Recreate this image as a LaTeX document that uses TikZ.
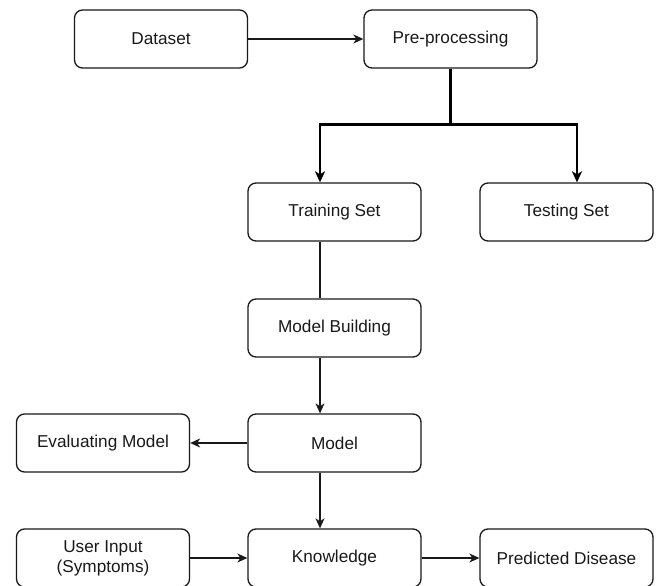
\documentclass[tikz,border=0pt]{standalone}
\usepackage{fontspec}
\setmainfont{Liberation Sans}
\usetikzlibrary{arrows.meta,calc}
\begin{document}
\begin{tikzpicture}[x=1pt,y=-1pt,
  box/.style={draw=black!90, rounded corners=8pt, line width=1.3pt, minimum width=173pt, minimum height=58pt,
    font=\fontsize{17.2}{20}\selectfont, text=black!90, align=center, inner sep=0pt},
  conn/.style={draw=black!90, line width=1.2pt},
  arr/.style={conn, -{Stealth[length=10pt,width=9pt,inset=3pt]}},
  thickarr/.style={draw=black, line width=2.4pt, line join=miter, -{Stealth[length=11pt,width=10pt,inset=3pt]}}]
\useasboundingbox (0,0) rectangle (656,586);
\clip (0,0) rectangle (656,586);
\node[box] (data)  at (161,39)    {Dataset};
\node[box] (pre)   at (450.5,39)  {Pre-processing};
\node[box] (train) at (334.5,212) {Training Set};
\node[box] (test)  at (566.5,212) {Testing Set};
\node[box] (mb)    at (334.5,328) {Model Building};
\node[box] (model) at (334.5,443) {Model};
\node[box] (eval)  at (103,443)   {Evaluating Model};
\node[box] (user)  at (103,558)   {User Input\\(Symptoms)};
\node[box] (know)  at (334.5,558) {Knowledge};
\node[box] (pred)  at (566.5,558) {Predicted Disease};
\draw[arr] (data.east) -- (pre.west);
\draw[thickarr] (pre.south) -- ++(0,56) -| ($(train.north)+(-14.5,0)$);
\draw[thickarr] (pre.south) -- ++(0,56) -| ($(test.north)+(10.5,0)$);
\draw[conn] ($(train.south)+(-14.5,0)$) -- ($(mb.north)+(-14.5,0)$);
\draw[arr] ($(mb.south)+(-14.5,0)$) -- ($(model.north)+(-14.5,0)$);
\draw[arr] (model.west) -- (eval.east);
\draw[arr] ($(model.south)+(-14.5,0)$) -- ($(know.north)+(-14.5,0)$);
\draw[arr] (user.east) -- (know.west);
\draw[arr] (know.east) -- (pred.west);
\end{tikzpicture}
\end{document}
